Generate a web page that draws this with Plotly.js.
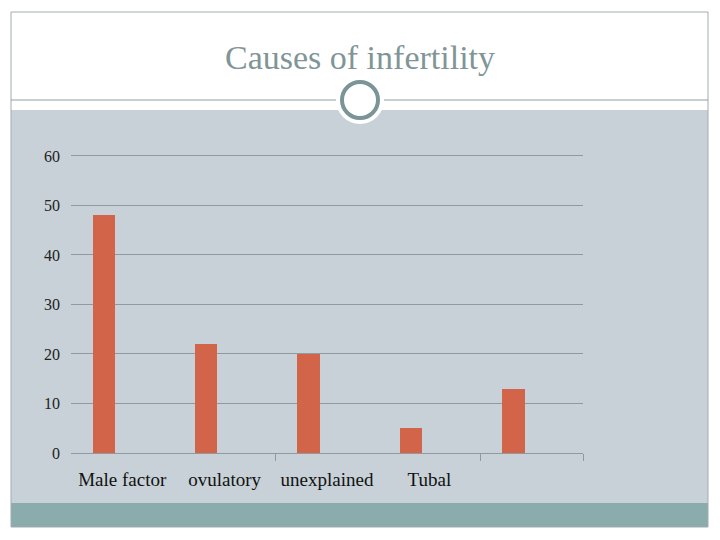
<!DOCTYPE html>
<html>
<head>
<meta charset="utf-8">
<script src="https://cdn.plot.ly/plotly-3.0.1.min.js"></script>
<style>
  html, body { margin: 0; padding: 0; background: #ffffff; }
  #graph { width: 720px; height: 540px; }
</style>
</head>
<body>
<div id="graph"></div>
<script>
const causes = ["Male factor", "ovulatory", "unexplained", "Tubal", " "];
const percent = [48, 22, 20, 5, 13];
const yTicks = [0, 10, 20, 30, 40, 50, 60];

// plot area in pixels, used to place the slide decorations in paper units
const L = 71, R = 583, T = 151, B = 453;
const px = (x) => (x - L) / (R - L);
const py = (y) => (B - y) / (B - T);

function initChart() {
  const serif = "Liberation Serif, DejaVu Serif, serif";

  const data = [
    {
      type: "bar",
      x: causes,
      y: percent,
      width: 0.22,
      offset: -0.29,
      marker: { color: "#d2644a" },
      hoverinfo: "x+y"
    }
  ];

  const shapes = [
    // grey body of the slide
    { type: "rect", xref: "paper", yref: "paper", x0: px(11), x1: px(708), y0: py(503), y1: py(110),
      fillcolor: "#c7d1d7", line: { width: 0 }, layer: "below" },
    // teal footer
    { type: "rect", xref: "paper", yref: "paper", x0: px(11), x1: px(708), y0: py(527), y1: py(503),
      fillcolor: "#8aacad", line: { width: 0 }, layer: "below" },
    // frame
    { type: "rect", xref: "paper", yref: "paper", x0: px(11), x1: px(708), y0: py(527), y1: py(12),
      line: { color: "#9fadaf", width: 1 }, layer: "below" },
    // separator under the title
    { type: "line", xref: "paper", yref: "paper", x0: px(11), x1: px(708), y0: py(100), y1: py(100),
      line: { color: "#8fa0a3", width: 1 }, layer: "below" },
    // white halo and ring
    { type: "circle", xref: "paper", yref: "paper", x0: px(336), x1: px(384), y0: py(124), y1: py(76),
      fillcolor: "#ffffff", line: { width: 0 }, layer: "below" },
    { type: "circle", xref: "paper", yref: "paper", x0: px(342), x1: px(378), y0: py(118), y1: py(82),
      fillcolor: "#ffffff", line: { color: "#7b9497", width: 4 }, layer: "below" }
  ];

  const layout = {
    width: 720,
    height: 540,
    margin: { l: L, r: 720 - R, t: T, b: 540 - B },
    paper_bgcolor: "#ffffff",
    plot_bgcolor: "rgba(0,0,0,0)",
    title: {
      text: "Causes of infertility",
      x: 0.5,
      xref: "container",
      y: 1 - 57 / 540,
      yref: "container",
      yanchor: "middle",
      font: { family: serif, size: 34, color: "#7f9598" }
    },
    xaxis: {
      type: "category",
      showgrid: false,
      showline: true,
      linecolor: "#8e9a9e",
      ticks: "",
      ticklabelstandoff: 9,
      tickfont: { family: serif, size: 19, color: "#111111" },
      fixedrange: true
    },
    xaxis2: {
      overlaying: "x",
      range: [0, 5],
      tickvals: [2, 4, 5],
      ticks: "outside",
      ticklen: 7,
      tickcolor: "#8e9a9e",
      showticklabels: false,
      showgrid: false,
      showline: false,
      zeroline: false,
      side: "bottom",
      fixedrange: true
    },
    yaxis: {
      range: [0, 61],
      tickvals: yTicks,
      showgrid: true,
      gridcolor: "#8e9a9e",
      gridwidth: 1,
      zeroline: false,
      ticks: "",
      ticklabelstandoff: 10,
      tickfont: { family: serif, size: 16, color: "#222222" },
      fixedrange: true
    },
    shapes: shapes,
    showlegend: false,
    bargap: 0
  };

  // empty trace so xaxis2 is drawn
  data.push({ type: "scatter", x: [0], y: [0], xaxis: "x2", mode: "none", hoverinfo: "skip" });

  Plotly.newPlot("graph", data, layout, { displayModeBar: false, staticPlot: true });
}

window.addEventListener("load", initChart);
</script>
</body>
</html>
